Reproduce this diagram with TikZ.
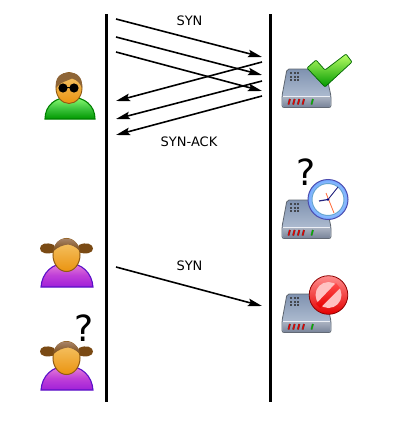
\documentclass[tikz,border=0pt]{standalone}
\usepackage{fontspec}
\setmainfont{DejaVu Sans}
\usetikzlibrary{arrows.meta}
\definecolor{hairc}{HTML}{7A4A14}
\definecolor{hairl}{HTML}{A88468}
\definecolor{headt}{HTML}{F6C66C}
\definecolor{headb}{HTML}{EA9410}
\definecolor{headl}{HTML}{8F5A14}
\definecolor{srvt}{HTML}{7F92B0}
\definecolor{srvb}{HTML}{BFCBDC}
\definecolor{srvl}{HTML}{5F6670}
\definecolor{pant}{HTML}{AEB6C4}
\definecolor{panb}{HTML}{79849A}
\definecolor{bodyt}{HTML}{E884D8}
\definecolor{bodym}{HTML}{C040D8}
\definecolor{bodyb}{HTML}{A020D8}
\definecolor{bodyl}{HTML}{5A10C8}
\tikzset{
  x=1pt,y=-1pt,
  lifeline/.style={line width=2.8pt,black},
  msg/.style={line width=1.6pt,black,-{Stealth[length=14pt,width=7.5pt,inset=2.5pt]}},
  lbl/.style={font=\fontsize{13}{15}\selectfont,inner sep=0pt},
  qmark/.style={font=\fontsize{36}{40}\selectfont,inner sep=0pt},
  headfill/.style={top color=headt,bottom color=headb},
  pics/boy/.style={code={
    \path[draw=green!50!black,line width=1.1pt,top color=green!50!white!90!yellow,bottom color=green!60!black,middle color=green!70!black!75!white]
      (45,119) .. controls (45,105) and (56,97) .. (70,97) .. controls (84,97) and (95,105) .. (95,119) -- cycle;
    \path[draw=headl,line width=.9pt,headfill] (69,88) ellipse [x radius=13,y radius=15.5];
    \path[fill=hairc!85!white] (56,88) .. controls (54.5,78) and (60,72.5) .. (69,72.5) .. controls (78,72.5) and (83,78) .. (82,88) .. controls (80,83) and (77,80) .. (72,78.5) .. controls (67,81) and (60,82) .. (56,88) -- cycle;
    \fill[black] (63,88) circle (4.6) (74,88) circle (4.6);
    \draw[black,line width=.8pt] (63,87) -- (74,87);
  }},
  pics/girl/.style={code={
    \path[draw=bodyl,line width=1.1pt,top color=bodyt,bottom color=bodyb,middle color=bodym]
      (41,287) .. controls (42,273) and (52,263) .. (67,263) .. controls (82,263) and (92,273) .. (93,287) -- cycle;
    \path[fill=hairc] (54,245) .. controls (46,241.5) and (40,244) .. (40,248.5) .. controls (40,253) and (47,255) .. (55,252) -- cycle;
    \path[fill=hairc] (79,245) .. controls (86,241.5) and (93,244) .. (93,248.5) .. controls (93,253) and (86,255) .. (78,252) -- cycle;
    \path[draw=headl,line width=1pt,headfill] (66.5,255) ellipse [x radius=13.5,y radius=16.5];
    \path[top color=hairl,bottom color=hairc] (53.5,251) .. controls (54,243) and (59,238.5) .. (66,238.5) .. controls (73,238.5) and (79,243) .. (80,251) .. controls (76,247) and (72,245) .. (68,244.5) .. controls (63,245) and (58,247) .. (53.5,251) -- cycle;
  }},
  pics/srv/.style={code={
    \path[draw=srvl,line width=.8pt,top color=srvt,bottom color=srvb,rounded corners=2pt]
      (287,69) -- (325,69) -- (331,96) -- (331,107.5) -- (282,107.5) -- (282,96) -- cycle;
    \path[top color=pant,bottom color=panb,rounded corners=1pt] (282.6,96) -- (330.4,96) -- (330.4,107) -- (282.6,107) -- cycle;
    \draw[white!70!srvb,line width=.5pt] (283,95.8) -- (330,95.8);
    \foreach \i in {0,1,2}{\foreach \j in {0,1,2}{\fill[srvl!70!black] (290+3.7*\i,72+3.7*\j) rectangle ++(2,2);}}
    \foreach \i in {0,1,2,3}{\draw[black!70,line width=2pt] (288.5+4.7*\i,104.5) -- (289.9+4.7*\i,99);
      \draw[red!90!black,line width=1.3pt] (288.5+4.7*\i,104.5) -- (289.9+4.7*\i,99);}
    \draw[black!60,line width=2pt] (311.5,104.5) -- (312.9,99);
    \draw[green!70!black,line width=1.3pt] (311.5,104.5) -- (312.9,99);
  }}
}
\begin{document}
\begin{tikzpicture}
\useasboundingbox (0,0) rectangle (402,431);
\fill[white] (0,0) rectangle (402,431);
\coordinate (ct) at (106.5,14); \coordinate (cb) at (106.5,402);
\coordinate (st) at (270.5,14); \coordinate (sb) at (270.5,402);
\draw[lifeline] (ct) -- (cb);
\draw[lifeline,line width=2.4pt] (st) -- (sb);
\coordinate (a1) at (116,19); \coordinate (b1) at (262,57);
\coordinate (a2) at (116,37); \coordinate (b2) at (262,75);
\coordinate (a3) at (116,52); \coordinate (b3) at (262,91);
\coordinate (c1) at (262,62); \coordinate (d1) at (116,101);
\coordinate (c2) at (262,81); \coordinate (d2) at (116,119);
\coordinate (c3) at (262,96); \coordinate (d3) at (116,135);
\coordinate (a4) at (116,267); \coordinate (b4) at (262,306);
\draw[msg] (a1) -- (b1);
\draw[msg] (a2) -- (b2);
\draw[msg] (a3) -- (b3);
\draw[msg] (c1) -- (d1);
\draw[msg] (c2) -- (d2);
\draw[msg] (c3) -- (d3);
\draw[msg] (a4) -- (b4);
\node[lbl] (syn1) at (189.5,20.5) {SYN};
\node[lbl] (sa) at (189,142) {SYN-ACK};
\node[lbl] (syn2) at (189.5,265.5) {SYN};
\node[qmark] (q1) at (306.5,172) {?};
\node[qmark] (q2) at (84,328.5) {?};
\pic {boy};
\pic {girl};
\pic[yshift=-103pt] {girl};
\pic {srv};
\pic[yshift=-131pt] {srv};
\pic[yshift=-225pt] {srv};
% check mark
\path[draw=green!40!black,line width=.7pt,top color=green!45!yellow!60!white,bottom color=green!60!black,rounded corners=1pt]
  (307,68) -- (316,60) -- (325,70) -- (346,54) -- (352,62) -- (325,87) -- cycle;
% clock
\path[draw=blue!55!black!70,line width=1pt,inner color=white,outer color=blue!60!cyan!55] (328,199.5) circle (20);
\draw[blue!40!cyan!70!black!60,line width=1pt,fill=white] (328,199.5) circle (16);
\draw[blue!50!black!70!gray,line width=.9pt] (328,199.5) -- (338,187);
\draw[blue!50!black!70!gray,line width=1.2pt] (328,199.5) -- (319,201);
\draw[red!50!orange!80!white,line width=.8pt] (326,193) -- (334,213);
\fill[blue!50!black] (328,199.5) circle (1.3);
% stop sign
\path[draw=red!55!black,line width=.8pt,top color=red!45!white,bottom color=red!90!black] (328.5,295) circle (19.3);
\path[fill=white!70!red!80!white] (328.5,295) circle (13);
\path[top color=red!70!white,bottom color=red!90!black] (316,304) -- (336,283) -- (340,288) -- (320,308) -- cycle;
\end{tikzpicture}
\end{document}
